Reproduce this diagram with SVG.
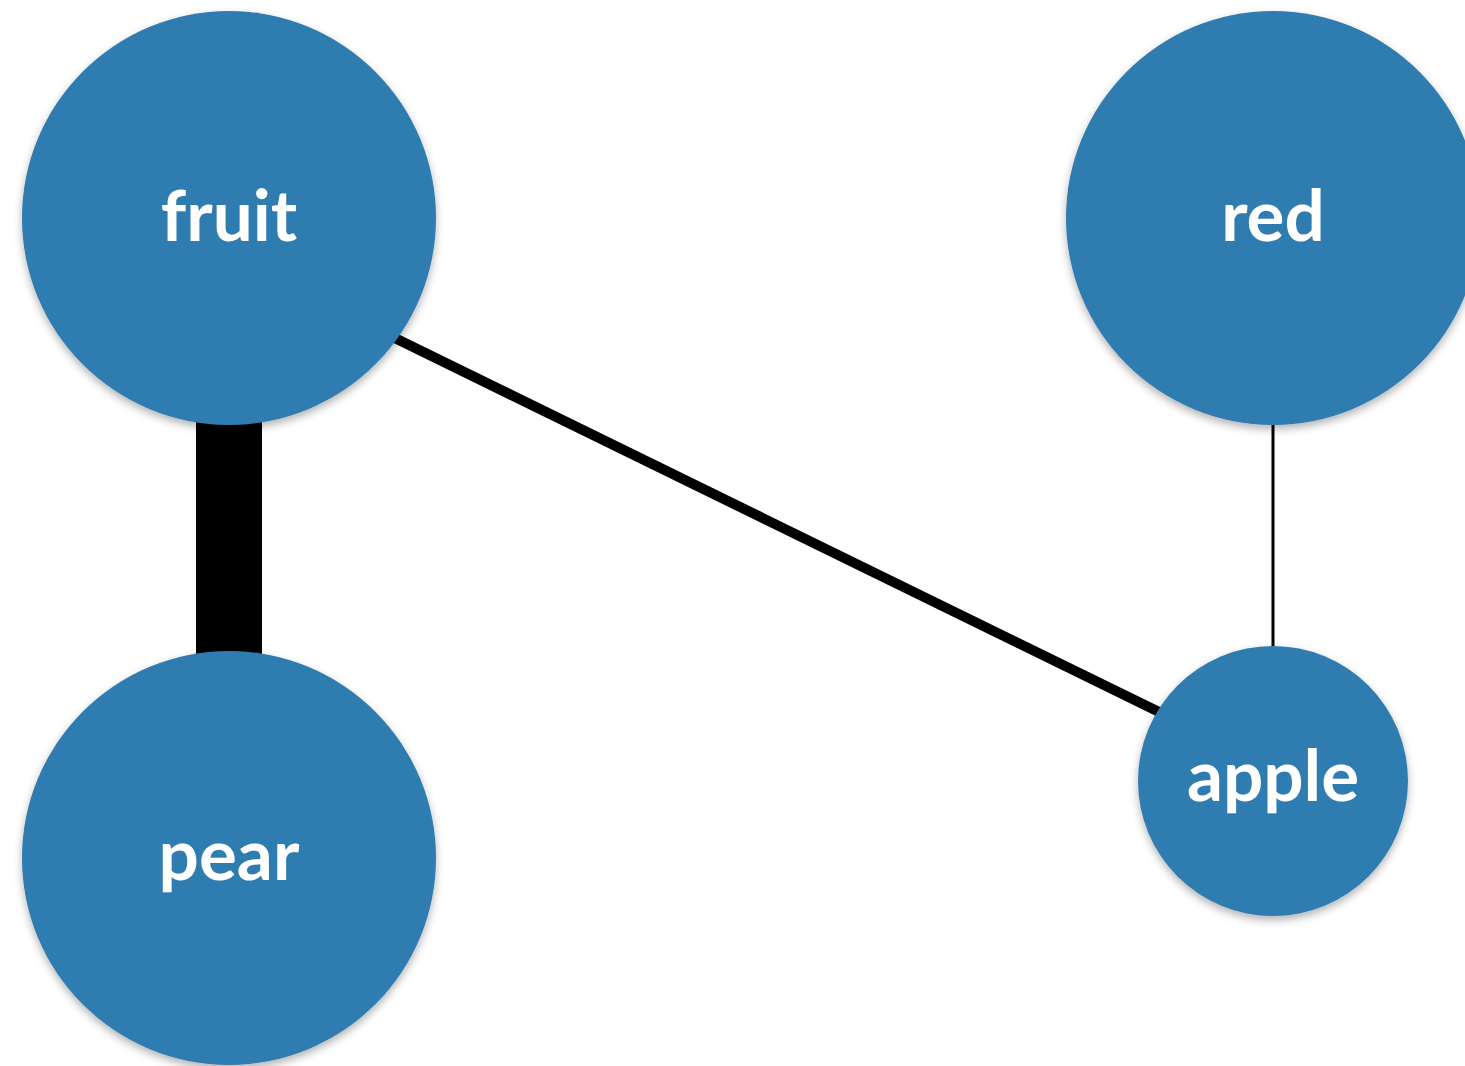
<svg xmlns="http://www.w3.org/2000/svg" width="1465" height="1066" viewBox="0 0 1465 1066">
<style>
.node{fill:#2f7cb0;filter:url(#sh)}
.lbl{font-family:Lato,"Open Sans",sans-serif;font-weight:bold;font-size:71px;fill:#fff;text-anchor:middle}
.edge{stroke:#000;fill:none}
</style>
<defs>
<filter id="sh" x="-10%" y="-10%" width="120%" height="125%">
<feDropShadow dx="0" dy="4" stdDeviation="4" flood-color="#000" flood-opacity="0.3"/>
</filter>
</defs>
<rect width="1465" height="1066" fill="#fff"/>
<g id="edges">
<line class="edge" x1="229" y1="218" x2="229" y2="858" stroke-width="66"/>
<line class="edge" x1="360" y1="321" x2="1200" y2="732" stroke-width="10"/>
<line class="edge" x1="1273" y1="218" x2="1273" y2="781" stroke-width="3"/>
</g>
<g id="fruit"><circle class="node" cx="229" cy="218" r="207"/><text class="lbl" x="229" y="241">fruit</text></g>
<g id="red"><circle class="node" cx="1273" cy="218" r="207"/><text class="lbl" x="1273" y="241">red</text></g>
<g id="pear"><circle class="node" cx="229" cy="858" r="207"/><text class="lbl" x="229" y="880">pear</text></g>
<g id="apple"><circle class="node" cx="1273" cy="781" r="135"/><text class="lbl" x="1273" y="801">apple</text></g>
</svg>
